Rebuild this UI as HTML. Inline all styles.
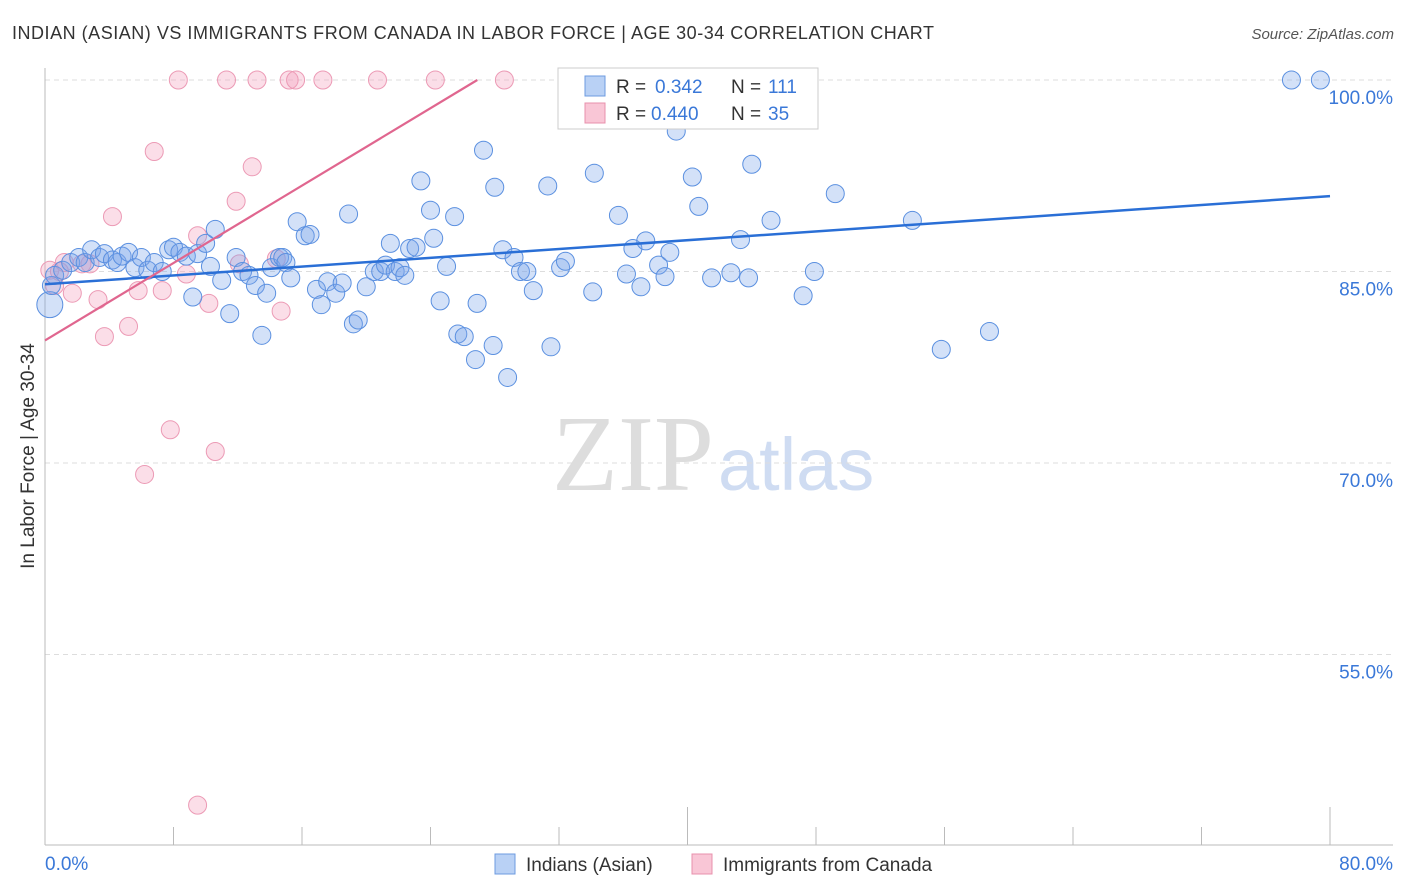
<!DOCTYPE html>
<html><head><meta charset="utf-8"><style>
body{margin:0;background:#fff;font-family:"Liberation Sans",sans-serif;}
#wrap{position:relative;width:1406px;height:892px;overflow:hidden;}
</style></head><body>
<div id="wrap">
<svg id="chart" width="1406" height="892">
<text x="12" y="39" font-size="18" fill="#333" textLength="922">INDIAN (ASIAN) VS IMMIGRANTS FROM CANADA IN LABOR FORCE | AGE 30-34 CORRELATION CHART</text>
<text x="1394" y="39" font-size="15" fill="#555" font-style="italic" text-anchor="end">Source: ZipAtlas.com</text>
<text x="714" y="490" font-size="108" fill="#ddd" text-anchor="end" font-family="Liberation Serif,serif">ZIP</text>
<text x="718" y="490" font-size="74" fill="#cfdcf2">atlas</text>
<text transform="translate(34,456) rotate(-90)" font-size="19" fill="#333" text-anchor="middle">In Labor Force | Age 30-34</text>
<g id="grid"></g><g id="pts"></g><g id="lines"></g>
<g>
<rect x="558" y="68" width="260" height="61" fill="#fff" stroke="#ccc"/>
<rect x="585" y="76" width="20" height="20" fill="#b9d1f5" stroke="#6d9be0"/>
<rect x="585" y="103" width="20" height="20" fill="#f9c6d6" stroke="#e890ac"/>
<text x="616" y="93" font-size="19" fill="#333">R = <tspan fill="#3a78d8" x="655">0.342</tspan></text>
<text x="731" y="93" font-size="19" fill="#333">N = <tspan fill="#3a78d8" x="768">111</tspan></text>
<text x="616" y="120" font-size="19" fill="#333">R = <tspan fill="#3a78d8" x="651">0.440</tspan></text>
<text x="731" y="120" font-size="19" fill="#333">N = <tspan fill="#3a78d8" x="768">35</tspan></text>
</g>
<g>
<rect x="495" y="854" width="20" height="20" fill="#b9d1f5" stroke="#6d9be0"/>
<text x="526" y="871" font-size="19" fill="#333">Indians (Asian)</text>
<rect x="692" y="854" width="20" height="20" fill="#f9c6d6" stroke="#e890ac"/>
<text x="723" y="871" font-size="19" fill="#333">Immigrants from Canada</text>
</g>
</svg>
</div>
<script>
const yTicks=[100,85,70,55];
const xTickVals=[8,16,24,32,40,48,56,64,72,80];
const blueX=[0.3,0.4,0.6,1.1,1.6,2.1,2.5,2.9,3.4,3.7,4.2,4.5,4.8,5.2,5.6,6.0,6.4,6.8,7.3,7.7,8.0,8.4,8.8,9.2,9.5,10.0,10.3,10.6,11.0,11.5,11.9,12.3,12.7,13.1,13.5,13.8,14.1,14.6,14.8,15.0,15.3,15.7,16.2,16.5,16.9,17.2,17.6,18.1,18.5,18.9,19.2,19.5,20.0,20.5,20.9,21.2,21.5,21.8,22.1,22.4,22.7,23.1,23.4,24.0,24.2,24.6,25.0,25.5,25.7,26.1,26.8,26.9,27.3,27.9,28.0,28.5,28.8,29.2,29.6,30.0,30.4,31.3,31.5,32.1,32.4,34.1,34.2,35.7,36.2,36.6,37.1,37.4,38.2,38.6,38.9,39.3,40.3,40.7,41.5,42.7,43.3,43.8,44.0,45.2,46.9,47.2,47.9,49.2,54.0,55.8,58.8,77.6,79.4];
const blueY=[82.4,83.9,84.7,85.1,85.7,86.1,85.7,86.7,86.1,86.4,85.9,85.7,86.2,86.5,85.3,86.1,85.1,85.7,85.0,86.7,86.9,86.5,86.2,83.0,86.4,87.2,85.4,88.3,84.3,81.7,86.1,85.0,84.7,83.9,80.0,83.3,85.3,86.1,86.1,85.7,84.5,88.9,87.8,87.9,83.6,82.4,84.2,83.3,84.1,89.5,80.9,81.2,83.8,85.0,85.0,85.5,87.2,85.0,85.3,84.7,86.8,86.9,92.1,89.8,87.6,82.7,85.4,89.3,80.1,79.9,78.1,82.5,94.5,79.2,91.6,86.7,76.7,86.1,85.0,85.0,83.5,91.7,79.1,85.3,85.8,83.4,92.7,89.4,84.8,86.8,83.8,87.4,85.5,84.6,86.5,96.0,92.4,90.1,84.5,84.9,87.5,84.5,93.4,89.0,100,83.1,85.0,91.1,89.0,78.9,80.3,100,100];
const pinkX=[0.3,0.6,1.2,1.7,2.3,2.8,3.3,3.7,4.2,5.2,5.8,6.2,6.8,7.3,7.8,8.3,8.8,9.5,9.5,10.2,10.6,11.3,11.9,12.1,12.9,13.2,14.4,14.7,15.2,15.6,17.3,20.7,24.3,28.6,0.9];
const pinkY=[85.1,83.9,85.7,83.3,85.6,85.6,82.8,79.9,89.3,80.7,83.5,69.1,94.4,83.5,72.6,100,84.8,87.8,43.2,82.5,70.9,100,90.5,85.6,93.2,100,86.0,81.9,100,100,100,100,100,100,85.0];
const blueBig=[0];
const X0=45,X1=1330,Y100=80,PXPER=12.766;
function sx(v){return X0+(X1-X0)*v/80;}
function sy(v){return Y100+(100-v)*PXPER;}
const NS='http://www.w3.org/2000/svg';
function mk(t,a,p){const e=document.createElementNS(NS,t);for(const k in a)e.setAttribute(k,a[k]);p.appendChild(e);return e;}
const grid=document.getElementById('grid');
yTicks.forEach(v=>{
 const l=mk('line',{x1:45,x2:1393,y1:sy(v),y2:sy(v),stroke:'#ddd','stroke-dasharray':'5,4'},grid);
 
 
 const t=mk('text',{x:1393,y:sy(v)+24,'font-size':19,fill:'#3a78d8','text-anchor':'end'},grid);
 t.textContent=v.toFixed(1)+'%';
 
 
});
const ax=mk('line',{x1:45,x2:1393,y1:845,y2:845,stroke:'#bbb'},grid);


const ay=mk('line',{x1:45,x2:45,y1:68,y2:845,stroke:'#bbb'},grid);


xTickVals.forEach(v=>{
 const tk=mk('line',{x1:sx(v),x2:sx(v),y1:v%40===0?807:827,y2:845,stroke:'#bbb'},grid);
 
 
});
[[0,'0.0%','start',45],[80,'80.0%','end',1393]].forEach(d=>{
 const t=mk('text',{x:d[3],y:870,'font-size':19,fill:'#3a78d8','text-anchor':d[2]},grid);
 t.textContent=d[1];
 
 
});
const pts=document.getElementById('pts');
pinkX.forEach((x,i)=>{
 const c=mk('circle',{cx:sx(x),cy:sy(pinkY[i]),r:9,fill:'rgba(244,160,188,0.35)',stroke:'#ec9ab5','stroke-width':1},pts);
 
 
});
blueX.forEach((x,i)=>{
 const c=mk('circle',{cx:sx(x),cy:sy(blueY[i]),r:blueBig.includes(i)?13:9,fill:'rgba(120,165,235,0.33)',stroke:'#5b90e0','stroke-width':1},pts);
 
 
});
const lines=document.getElementById('lines');
const blueTrend=[84.0,90.9];
const pinkTrend=[79.6,0.758];
const bl=mk('line',{x1:sx(0),y1:sy(blueTrend[0]),x2:sx(80),y2:sy(blueTrend[1]),stroke:'#2a6fd6','stroke-width':2.5},lines);


const xe=(100-pinkTrend[0])/pinkTrend[1];
const pl=mk('line',{x1:sx(0),y1:sy(pinkTrend[0]),x2:sx(xe),y2:sy(100),stroke:'#e0668f','stroke-width':2.2},lines);


</script>
</body></html>
